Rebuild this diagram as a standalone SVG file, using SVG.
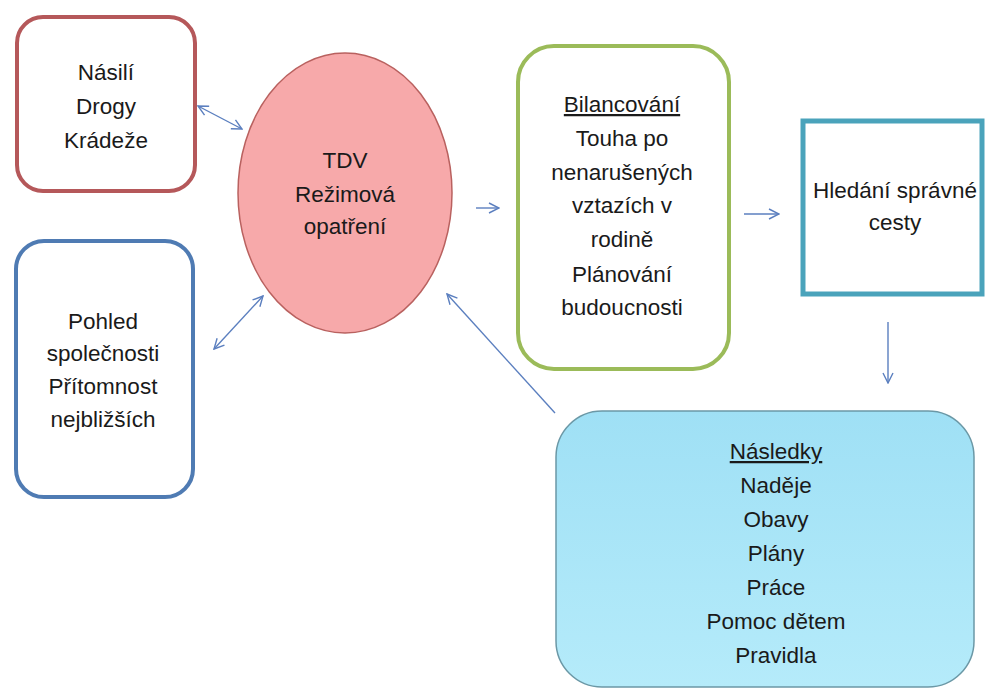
<svg xmlns="http://www.w3.org/2000/svg" width="990" height="691" viewBox="0 0 990 691">
<style>
.t{font-family:"Liberation Sans",Arial,sans-serif;font-size:22.5px;fill:#1a1a1a;text-anchor:middle}
.c{fill:none;stroke:#5b7fbf;stroke-width:1.4}
</style>
<defs>
<marker id="ah" viewBox="0 0 12 12" refX="11" refY="6" markerWidth="12" markerHeight="12" markerUnits="userSpaceOnUse" orient="auto-start-reverse">
<path d="M1,1 L11,6 L1,11" fill="none" stroke="#5b7fbf" stroke-width="1.4"/>
</marker>
<linearGradient id="cy" x1="0" y1="0" x2="0" y2="1">
<stop offset="0" stop-color="#9fe0f5"/>
<stop offset="1" stop-color="#b5ebfa"/>
</linearGradient>
</defs>
<rect width="990" height="691" fill="#ffffff"/>
<g id="nasili">
<rect x="17" y="17" width="178" height="174" rx="26" fill="#ffffff" stroke="#b5585a" stroke-width="4"/>
<text class="t" x="106" y="80">Násilí</text>
<text class="t" x="106" y="114">Drogy</text>
<text class="t" x="106" y="148">Krádeže</text>
</g>
<g id="pohled">
<rect x="16" y="241" width="177" height="256" rx="28" fill="#ffffff" stroke="#4f7bb3" stroke-width="4"/>
<text class="t" x="103" y="329">Pohled</text>
<text class="t" x="103" y="361">společnosti</text>
<text class="t" x="103" y="394">Přítomnost</text>
<text class="t" x="103" y="427">nejbližších</text>
</g>
<g id="tdv">
<ellipse cx="345" cy="193" rx="107" ry="140" fill="#f7a9aa" stroke="#b9615f" stroke-width="1.5"/>
<text class="t" x="345" y="168">TDV</text>
<text class="t" x="345" y="202">Režimová</text>
<text class="t" x="345" y="234">opatření</text>
</g>
<g id="bilancovani">
<rect x="518" y="46" width="211" height="323" rx="36" fill="#ffffff" stroke="#9bbb59" stroke-width="4"/>
<text class="t" x="622" y="112" text-decoration="underline">Bilancování</text>
<text class="t" x="622" y="146">Touha po</text>
<text class="t" x="622" y="180">nenarušených</text>
<text class="t" x="622" y="213">vztazích v</text>
<text class="t" x="622" y="247">rodině</text>
<text class="t" x="622" y="282">Plánování</text>
<text class="t" x="622" y="315">budoucnosti</text>
</g>
<g id="hledani">
<rect x="803" y="121" width="179" height="173" fill="#ffffff" stroke="#4aa3bb" stroke-width="5"/>
<text class="t" x="895" y="198">Hledání správné</text>
<text class="t" x="895" y="230">cesty</text>
</g>
<g id="nasledky">
<rect x="556" y="411" width="418" height="276" rx="46" fill="url(#cy)" stroke="#6b98a6" stroke-width="1.5"/>
<text class="t" x="776" y="459" text-decoration="underline">Následky</text>
<text class="t" x="776" y="493">Naděje</text>
<text class="t" x="776" y="527">Obavy</text>
<text class="t" x="776" y="561">Plány</text>
<text class="t" x="776" y="595">Práce</text>
<text class="t" x="776" y="629">Pomoc dětem</text>
<text class="t" x="776" y="663">Pravidla</text>
</g>
<g id="connectors">
<line class="c" x1="198" y1="106" x2="242" y2="129" marker-start="url(#ah)" marker-end="url(#ah)"/>
<line class="c" x1="214" y1="349" x2="263" y2="296" marker-start="url(#ah)" marker-end="url(#ah)"/>
<line class="c" x1="476" y1="208" x2="499" y2="208" marker-end="url(#ah)"/>
<line class="c" x1="744" y1="214" x2="779" y2="214" marker-end="url(#ah)"/>
<line class="c" x1="888" y1="322" x2="888" y2="383" marker-end="url(#ah)"/>
<line class="c" x1="555" y1="413" x2="447" y2="294" marker-end="url(#ah)"/>
</g>
</svg>
